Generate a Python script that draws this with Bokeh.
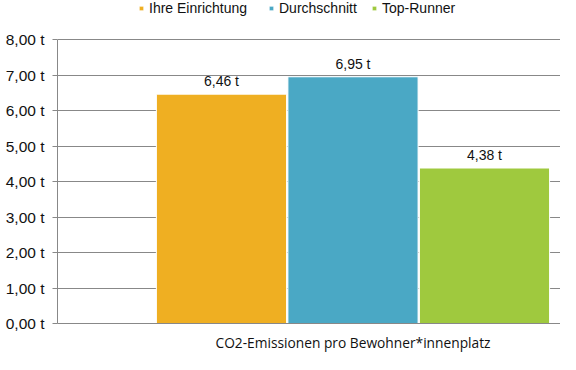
from bokeh.plotting import figure
from bokeh.models import (ColumnDataSource, Range1d, FixedTicker, CustomJSTickFormatter,
                          Legend, LegendItem)
from bokeh.core.properties import value
from bokeh.embed import file_html
from bokeh.resources import INLINE

series = ["Ihre Einrichtung", "Durchschnitt", "Top-Runner"]
values = [6.46, 6.95, 4.38]
colors = ["#EFAF22", "#4AA8C5", "#9FC93E"]
category = "CO2-Emissionen pro Bewohner*innenplatz"
y_ticks = [0, 1, 2, 3, 4, 5, 6, 7, 8]

labels = [("%.2f" % v).replace(".", ",") + " t" for v in values]
src = ColumnDataSource(dict(x=list(range(len(series))), top=values, color=colors,
                            name=series, label=labels))

p = figure(width=560, height=354, output_backend="svg", toolbar_location=None,
           x_range=Range1d(-1.247, 2.578), y_range=Range1d(0, 9.0986),
           min_border_left=57, min_border_right=0, min_border_top=0, min_border_bottom=31)
p.outline_line_color = None
p.background_fill_color = "white"

r = p.vbar(x="x", top="top", width=0.99, bottom=0, fill_color="color",
           line_color="white", line_width=1, source=src)

p.text(x="x", y="top", text="label", source=src, text_align="center",
       text_baseline="bottom", y_offset=-5, text_font=value("Liberation Sans"),
       text_font_size="14px", text_color="#111111")

# axes
p.yaxis.ticker = FixedTicker(ticks=y_ticks)
p.yaxis.bounds = (0, 8)
p.yaxis.formatter = CustomJSTickFormatter(code="return tick.toFixed(2).replace('.', ',') + ' t';")
p.yaxis.major_label_text_font = "Liberation Sans"
p.yaxis.major_label_text_font_size = "15.5px"
p.yaxis.major_label_text_color = "#111111"
p.yaxis.axis_line_color = "#888888"
p.yaxis.major_tick_line_color = "#888888"
p.yaxis.major_tick_out = 5
p.yaxis.major_tick_in = 0
p.yaxis.minor_tick_line_color = None
p.yaxis.major_label_standoff = 8

p.xaxis.ticker = FixedTicker(ticks=[1])
p.xaxis.major_label_overrides = {1: category}
p.xaxis.major_label_text_font = "Open Sans"
p.xaxis.major_label_text_font_size = "13.75px"
p.xaxis.major_label_text_color = "#111111"
p.xaxis.axis_line_color = "#888888"
p.xaxis.major_tick_line_color = None
p.xaxis.major_tick_out = 0
p.xaxis.major_tick_in = 0
p.xaxis.minor_tick_line_color = None
p.xaxis.major_label_standoff = 9

p.xgrid.grid_line_color = None
p.ygrid.grid_line_color = "#888888"
p.ygrid.ticker = FixedTicker(ticks=y_ticks)

legend_x = [81, 211, 314]
for i, s in enumerate(series):
    lg = Legend(items=[LegendItem(label=s, renderers=[r], index=i)],
                orientation="horizontal", location=(legend_x[i], 307),
                glyph_width=6, glyph_height=6, label_standoff=5,
                padding=0, margin=0, border_line_color=None, background_fill_alpha=0,
                label_text_font="Liberation Sans", label_text_font_size="14px",
                label_text_color="#111111")
    p.add_layout(lg, "center")

open("out.html", "w").write(file_html(p, INLINE))
